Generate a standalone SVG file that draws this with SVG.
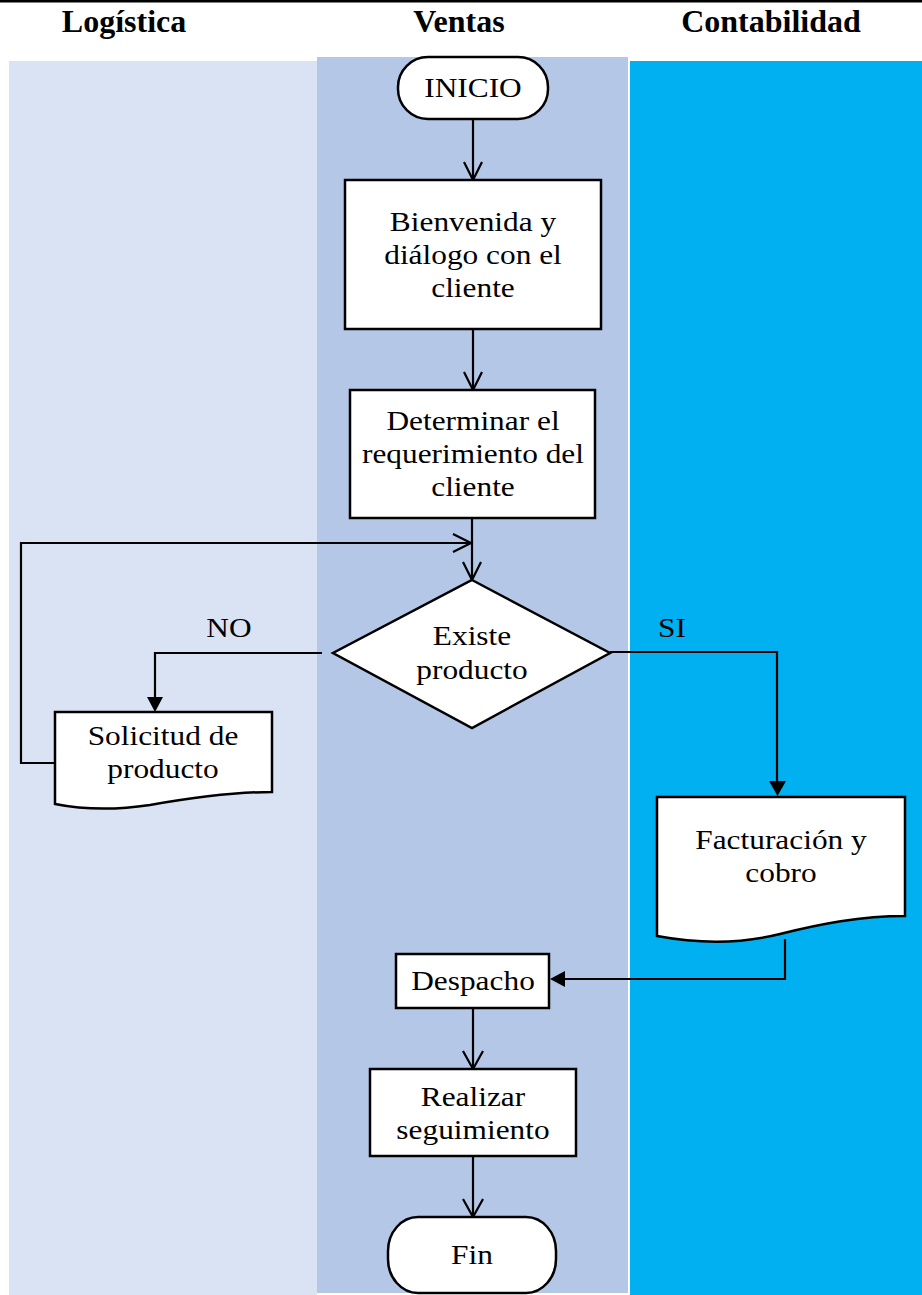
<svg xmlns="http://www.w3.org/2000/svg" width="922" height="1295" viewBox="0 0 922 1295">
  <style>
    .hdr { font-family: "Liberation Serif", "Times New Roman", serif; font-weight: bold; font-size: 32px; text-anchor: middle; fill: #000; }
    .lbl { font-family: "Liberation Serif", "Times New Roman", serif; font-size: 28px; text-anchor: middle; fill: #000; }
    .shape { fill: #fff; stroke: #000; stroke-width: 2.5; }
    .line { fill: none; stroke: #000; stroke-width: 2.2; }
    .open { fill: none; stroke: #000; stroke-width: 2.2; stroke-linejoin: miter; }
    .solid { fill: #000; stroke: none; }
  </style>

  <rect width="922" height="1295" fill="#fff"/>

  <!-- swimlane backgrounds -->
  <g id="lanes">
    <rect x="9" y="61" width="308" height="1234" fill="#dae3f3"/>
    <rect x="317" y="57" width="311" height="1236" fill="#b4c7e7"/>
    <rect x="630" y="61" width="292" height="1234" fill="#00b0f0"/>
  </g>

  <!-- header rule and lane titles -->
  <g id="header">
    <rect x="0" y="0" width="922" height="2.5" fill="#000"/>
    <text class="hdr" x="124" y="32">Logística</text>
    <text class="hdr" x="459" y="32">Ventas</text>
    <text class="hdr" x="771" y="32">Contabilidad</text>
  </g>

  <!-- connectors -->
  <g id="connectors">
    <!-- INICIO -> Bienvenida -->
    <line class="line" x1="473" y1="119" x2="473" y2="179"/>
    <polyline class="open" points="464,162 473,180 482,162"/>
    <!-- Bienvenida -> Determinar -->
    <line class="line" x1="473" y1="329" x2="473" y2="389"/>
    <polyline class="open" points="464,372 473,390 482,372"/>
    <!-- Determinar -> decision -->
    <line class="line" x1="472" y1="518" x2="472" y2="579"/>
    <polyline class="open" points="463,562 472,580 481,562"/>
    <!-- loop back from Solicitud -->
    <polyline class="line" points="55,763 21,763 21,543 471,543"/>
    <polyline class="open" points="453,534 471,543 453,552"/>
    <!-- NO branch -->
    <polyline class="line" points="322,653 155,653 155,698"/>
    <polygon class="solid" points="147,697 163,697 155,712"/>
    <text class="lbl" transform="translate(229,637) scale(1.12,1)">NO</text>
    <!-- SI branch -->
    <polyline class="line" points="610,652 777,652 777,782"/>
    <polygon class="solid" points="769,781 786,781 777.5,796"/>
    <text class="lbl" transform="translate(672,637) scale(1.12,1)">SI</text>
    <!-- Facturación -> Despacho -->
    <polyline class="line" points="785,939 785,979 563,979"/>
    <polygon class="solid" points="565,971 565,987 550,979"/>
    <!-- Despacho -> Realizar -->
    <line class="line" x1="473" y1="1008" x2="473" y2="1068"/>
    <polyline class="open" points="463,1051 473,1069 483,1051"/>
    <!-- Realizar -> Fin -->
    <line class="line" x1="473" y1="1156" x2="473" y2="1216"/>
    <polyline class="open" points="463,1199 473,1217 483,1199"/>
  </g>

  <g id="inicio">
    <rect class="shape" x="398" y="57" width="150" height="62" rx="30" ry="30"/>
    <text class="lbl" transform="translate(473,97) scale(1.12,1)">INICIO</text>
  </g>

  <g id="bienvenida">
    <rect class="shape" x="345" y="180" width="256" height="149"/>
    <text class="lbl" transform="translate(473,231) scale(1.12,1)">Bienvenida y</text>
    <text class="lbl" transform="translate(473,264) scale(1.12,1)">diálogo con el</text>
    <text class="lbl" transform="translate(473,297) scale(1.12,1)">cliente</text>
  </g>

  <g id="determinar">
    <rect class="shape" x="350" y="390" width="245" height="128"/>
    <text class="lbl" transform="translate(473,430) scale(1.12,1)">Determinar el</text>
    <text class="lbl" transform="translate(473,463) scale(1.12,1)">requerimiento del</text>
    <text class="lbl" transform="translate(473,496) scale(1.12,1)">cliente</text>
  </g>

  <g id="existe">
    <polygon class="shape" points="472,580 610,653 472,728 333,653"/>
    <text class="lbl" transform="translate(472,645) scale(1.12,1)">Existe</text>
    <text class="lbl" transform="translate(472,679) scale(1.12,1)">producto</text>
  </g>

  <g id="solicitud">
    <path class="shape" d="M55,712 H272 V792 C230,792 190,798 150,805 C110,811 80,809 55,804 Z"/>
    <text class="lbl" transform="translate(163,745) scale(1.12,1)">Solicitud de</text>
    <text class="lbl" transform="translate(163,778) scale(1.12,1)">producto</text>
  </g>

  <g id="facturacion">
    <path class="shape" d="M657,797 H905 V916 C860,916 820,924 780,934 C740,944 700,944 657,936 Z"/>
    <text class="lbl" transform="translate(781,849) scale(1.12,1)">Facturación y</text>
    <text class="lbl" transform="translate(781,882) scale(1.12,1)">cobro</text>
  </g>

  <g id="despacho">
    <rect class="shape" x="396" y="954" width="153" height="54"/>
    <text class="lbl" transform="translate(473,990) scale(1.12,1)">Despacho</text>
  </g>

  <g id="realizar">
    <rect class="shape" x="370" y="1069" width="206" height="87"/>
    <text class="lbl" transform="translate(473,1106) scale(1.12,1)">Realizar</text>
    <text class="lbl" transform="translate(473,1139) scale(1.12,1)">seguimiento</text>
  </g>

  <g id="fin">
    <rect class="shape" x="388" y="1217" width="168" height="76" rx="30" ry="34"/>
    <text class="lbl" transform="translate(472,1264) scale(1.12,1)">Fin</text>
  </g>
</svg>
